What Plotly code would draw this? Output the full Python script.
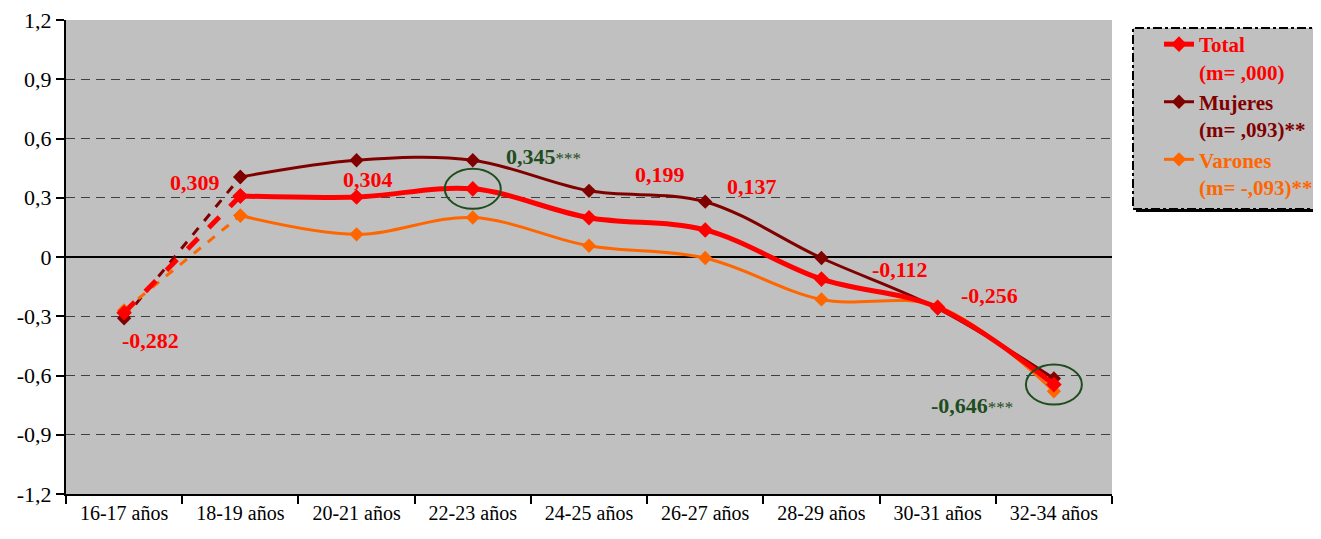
import plotly.graph_objects as go

categorias = ["16-17 años", "18-19 años", "20-21 años", "22-23 años", "24-25 años",
              "26-27 años", "28-29 años", "30-31 años", "32-34 años"]
total = [-0.282, 0.309, 0.304, 0.345, 0.199, 0.137, -0.112, -0.256, -0.646]
mujeres = [-0.31, 0.405, 0.49, 0.49, 0.335, 0.28, -0.005, -0.26, -0.615]
varones = [-0.27, 0.21, 0.115, 0.20, 0.057, -0.005, -0.215, -0.25, -0.68]
etiquetas_total = ["-0,282", "0,309", "0,304", "0,345***", "0,199", "0,137", "-0,112", "-0,256", "-0,646***"]
y_ticks = [-1.2, -0.9, -0.6, -0.3, 0, 0.3, 0.6, 0.9, 1.2]
y_ticktext = ["-1,2", "-0,9", "-0,6", "-0,3", "0", "0,3", "0,6", "0,9", "1,2"]

ROJO = "#FF0000"
GRANATE = "#800000"
NARANJA = "#FF6600"
VERDE = "#1E4D1E"
GRIS = "#C0C0C0"
FUENTE = "Liberation Serif"

W, H = 1313, 531   # la página añade 8 px de margen al cuerpo

fig = go.Figure()

series = [
    ("Mujeres", mujeres, GRANATE, 3, 11, "<b><span style='color:#800000'>Mujeres<br>(m= ,093)**</span></b>"),
    ("Varones", varones, NARANJA, 3, 11, "<b><span style='color:#FF6600'>Varones<br>(m= -,093)**</span></b>"),
    ("Total", total, ROJO, 5, 12, "<b><span style='color:#FF0000'>Total<br>(m= ,000)</span></b>"),
]

# tramo inicial discontinuo
for nombre, vals, color, ancho, msize, _ in series:
    fig.add_trace(go.Scatter(
        x=categorias[:2], y=vals[:2], mode="lines+markers",
        line=dict(color=color, width=ancho, dash="dash"),
        marker=dict(symbol="diamond", size=msize, color=color),
        showlegend=False, hoverinfo="skip"))

# resto de la serie, suavizada
for nombre, vals, color, ancho, msize, leyenda in series:
    fig.add_trace(go.Scatter(
        x=categorias[1:], y=vals[1:], mode="lines+markers", name=leyenda,
        line=dict(color=color, width=ancho, shape="spline", smoothing=1.0),
        marker=dict(symbol="diamond", size=msize, color=color),
        legendrank={"Total": 1, "Mujeres": 2, "Varones": 3}[nombre]))

# etiquetas de valor del total
desplaz = [(26, -28), (-45, 13), (11, 17), (71, 32), (71, 43), (47, 43), (79, 10), (52, 12), (-82, -21)]
for i, (cat, v, txt) in enumerate(zip(categorias, total, etiquetas_total)):
    verde = txt.endswith("***")
    color = VERDE if verde else ROJO
    if verde:
        txt = "<b>" + txt[:-3] + "</b><span style='font-size:17px'>***</span>"
    else:
        txt = "<b>" + txt + "</b>"
    fig.add_annotation(x=cat, y=v, text=txt, showarrow=False,
                       xshift=desplaz[i][0], yshift=desplaz[i][1],
                       font=dict(family=FUENTE, size=22, color=color))

# elipses verdes en los puntos significativos
for idx in (3, 8):
    fig.add_shape(type="circle", xref="x", yref="y", xsizemode="pixel", ysizemode="pixel",
                  xanchor=idx, yanchor=total[idx], x0=-28, x1=28, y0=-20, y1=20,
                  line=dict(color=VERDE, width=2), layer="above")

# caja de la leyenda (coordenadas de pantalla -> papel)
def px_x(p):
    return (p - 66) / 1046

def px_y(p):
    return (494 - p) / 474

fig.add_shape(type="rect", xref="paper", yref="paper",
              x0=px_x(1136), x1=px_x(1330), y0=px_y(212), y1=px_y(31),
              fillcolor="black", line=dict(width=0), layer="below")
fig.add_shape(type="rect", xref="paper", yref="paper",
              x0=px_x(1133), x1=px_x(1327), y0=px_y(209), y1=px_y(28),
              fillcolor=GRIS, line=dict(color="black", width=2, dash="dashdot"), layer="below")

fig.update_layout(
    width=W, height=H,
    margin=dict(l=58, r=209, t=12, b=45),
    paper_bgcolor="white", plot_bgcolor=GRIS,
    font=dict(family=FUENTE, size=21, color="black"),
    legend=dict(xref="container", yref="container",
                x=(1159 - 8) / W, y=1 - (24 - 8) / H, xanchor="left", yanchor="top",
                bgcolor="rgba(0,0,0,0)", borderwidth=0, valign="top",
                font=dict(family=FUENTE, size=21), tracegroupgap=0, itemwidth=30),
    xaxis=dict(type="category", categoryorder="array", categoryarray=categorias,
               range=[-0.5, 8.5], showline=True, linecolor="black", linewidth=2,
               ticks="outside", tickson="boundaries", ticklen=8, tickwidth=2, tickcolor="black",
               showgrid=False, tickfont=dict(family=FUENTE, size=20), automargin=False),
    yaxis=dict(range=[-1.2, 1.2], tickvals=y_ticks, ticktext=y_ticktext,
               showline=True, linecolor="black", linewidth=2,
               ticks="outside", ticklen=8, tickwidth=2, tickcolor="black",
               showgrid=True, gridcolor="#404040", gridwidth=1, griddash="9px,6px",
               zeroline=True, zerolinecolor="black", zerolinewidth=2,
               tickfont=dict(family=FUENTE, size=22), automargin=False,
               ticklabeloverflow="allow"),
)

fig.write_html("out.html")
